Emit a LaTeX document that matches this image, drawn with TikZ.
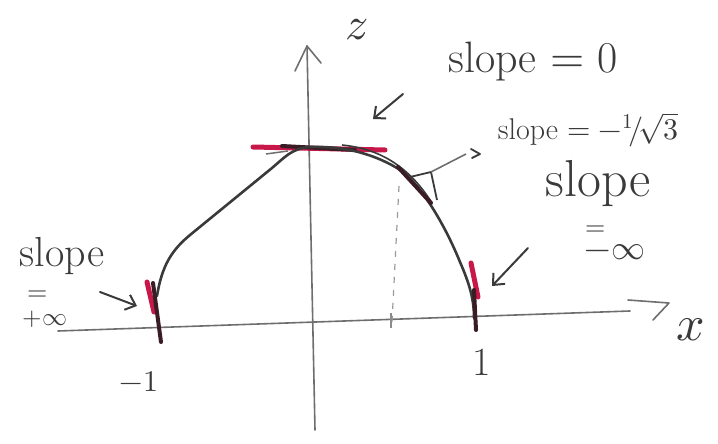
\documentclass[tikz,border=0pt]{standalone}
\usepackage{unicode-math}
\usetikzlibrary{arrows.meta}
\definecolor{ink}{HTML}{3A3A3A}
\definecolor{axisgray}{HTML}{6E6E6E}
\definecolor{marker}{HTML}{C8184A}
\definecolor{darkmark}{HTML}{3A1C24}
\newcommand\hwsize[1]{\fontsize{#1}{#1}\selectfont}
\begin{document}
\begin{tikzpicture}[x=1pt,y=-1pt,
  axisline/.style={draw=axisgray,line width=1.6pt,line cap=round,line join=round},
  curveline/.style={draw=ink,line width=2.6pt,line cap=round,line join=round},
  redmark/.style={draw=marker,line width=5pt,line cap=round},
  darkline/.style={draw=darkmark,line width=4pt,line cap=round},
  pointer/.style={draw=ink,line width=2pt,line cap=round,-{Straight Barb[length=9pt,width=16pt,line width=2pt]}},
  lab/.style={text=ink,inner sep=0pt}]
\useasboundingbox (0,0) rectangle (718,444);
% axes
\coordinate (xs) at (58,331);
\coordinate (xe) at (630,311);
\draw[axisline] (xs) -- (xe);
\draw[axisline] (628,300) -- (669,303) -- (653,320);
\coordinate (zs) at (315,430);
\coordinate (ze) at (307,46);
\draw[axisline] (zs) -- (ze);
\draw[axisline] (295,71) -- (307,46) -- (321,63);
% dashed line at x = 1/2
\draw[axisgray!70,line width=1.2pt,dash pattern=on 6pt off 7pt] (399,186) -- (392,322);
\draw[axisgray!80,line width=1.2pt] (391,313) -- (391,328);
% red and dark marks
\draw[redmark] (253,147) -- (385,150);
\draw[darkline] (282,146) -- (355,150);
\draw[axisgray,line width=1.5pt] (266,154) -- (288,151);
\draw[redmark] (147,282) -- (154,312);
\draw[redmark] (471,263) -- (478,297);
% curve
\draw[curveline] (157,296) .. controls (162,265) and (172,250) .. (190,235)
  -- (272,168)
  .. controls (284,158) and (292,148) .. (310,147)
  .. controls (340,146) and (370,152) .. (397,168)
  .. controls (420,182) and (445,225) .. (460,262)
  .. controls (470,285) and (474,300) .. (474,318);
\draw[ink,line width=1.6pt] (342,145) .. controls (372,148) and (405,160) .. (432,203);
\draw[darkline] (153,283) -- (161,342);
\draw[darkline] (474,290) -- (476,330);
% tangent at x=1/2
\draw[darkline] (398,167) -- (431,203);
\coordinate (tA) at (410,177);
\coordinate (tB) at (431,172);
\coordinate (tC) at (437,200);
\draw[ink,line width=1.8pt,line join=round] (tA) -- (tB) -- (tC);
\coordinate (leadEnd) at (466,154);
\draw[axisgray,line width=1.6pt] (tB) -- (leadEnd);
\draw[ink,line width=1.8pt,line cap=round,line join=round] (471,149) -- (480,154) -- (472,158);
% pointer arrows
\coordinate (p1s) at (403,94);
\coordinate (p1e) at (373,119);
\draw[pointer] (p1s) -- (p1e);
\coordinate (p2s) at (100,292);
\coordinate (p2e) at (137,306);
\draw[pointer] (p2s) -- (p2e);
\coordinate (p3s) at (528,248);
\coordinate (p3e) at (492,286);
\draw[pointer] (p3s) -- (p3e);
% labels
\node[lab,font=\hwsize{46}] (zl) at (357,30) {$z$};
\node[lab,font=\hwsize{50}] (xl) at (691,330) {$x$};
\node[lab,font=\hwsize{30}] (m1) at (139,382) {$-1$};
\node[lab,font=\hwsize{40}] (p1) at (482,362) {1};
\node[lab,font=\hwsize{44}] (s0) at (533,62) {slope $=$ 0};
\node[lab,font=\hwsize{30}] (s1) at (588,130) {slope $=-{}^{1}\!/\!\sqrt{3}$};
\node[lab,font=\hwsize{52}] (sr) at (598,184) {slope};
\node[lab,font=\hwsize{26}] (er) at (596,231) {$=$};
\node[lab,font=\hwsize{34}] (ir) at (615,252) {$-\infty$};
\node[lab,font=\hwsize{42}] (sl) at (62,256) {slope};
\node[lab,font=\hwsize{26}] (el) at (38,296) {$=$};
\node[lab,font=\hwsize{25}] (il) at (45,319) {$+\infty$};
\end{tikzpicture}
\end{document}
